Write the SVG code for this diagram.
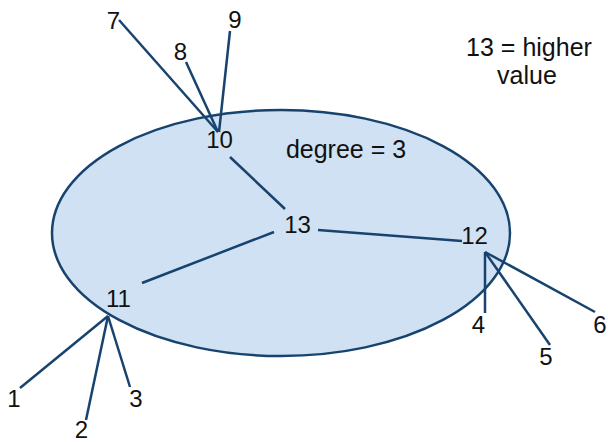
<svg xmlns="http://www.w3.org/2000/svg" width="608" height="442" viewBox="0 0 608 442">
<style>
.e{stroke:#17436e;stroke-width:2.5;fill:none;stroke-linecap:butt}
text{font-family:"Liberation Sans",Arial,sans-serif;font-size:25px;fill:#111;text-anchor:middle}
.d{font-size:24px}
</style>
<rect width="608" height="442" fill="#fff"/>
<g id="region"><ellipse cx="281" cy="233" rx="229" ry="123" fill="#cfe1f3" stroke="#17436e" stroke-width="2.5"/></g>
<g id="connectors">
<line class="e" x1="119" y1="20" x2="218" y2="132"/>
<line class="e" x1="186" y1="62" x2="218" y2="132"/>
<line class="e" x1="230" y1="31" x2="219" y2="132"/>
<line class="e" x1="230" y1="157" x2="285" y2="209"/>
<line class="e" x1="318" y1="230" x2="462" y2="241"/>
<line class="e" x1="274" y1="232" x2="142" y2="283"/>
<line class="e" x1="485" y1="252" x2="485" y2="313"/>
<line class="e" x1="485" y1="252" x2="550" y2="345"/>
<line class="e" x1="485" y1="252" x2="595" y2="312"/>
<line class="e" x1="108" y1="316" x2="20" y2="388"/>
<line class="e" x1="108" y1="316" x2="86" y2="420"/>
<line class="e" x1="108" y1="316" x2="130" y2="387"/>
</g>
<g id="n7"><text class="d" x="113.5" y="29">7</text></g>
<g id="n8"><text class="d" x="180.5" y="60">8</text></g>
<g id="n9"><text class="d" x="235" y="28">9</text></g>
<g id="n10"><text class="d" x="219.5" y="148">10</text></g>
<g id="n13"><text class="d" x="297.5" y="233">13</text></g>
<g id="n12"><text class="d" x="474.5" y="244">12</text></g>
<g id="n11"><text class="d" x="118.5" y="307">11</text></g>
<g id="n1"><text class="d" x="14" y="407">1</text></g>
<g id="n2"><text class="d" x="81.5" y="438">2</text></g>
<g id="n3"><text class="d" x="136" y="407">3</text></g>
<g id="n4"><text class="d" x="478.5" y="333">4</text></g>
<g id="n5"><text class="d" x="546" y="365">5</text></g>
<g id="n6"><text class="d" x="600" y="333">6</text></g>
<g id="label-degree"><text x="346" y="158">degree = 3</text></g>
<g id="label-note"><text x="529" y="56">13 = higher</text><text x="527" y="84">value</text></g>
</svg>
